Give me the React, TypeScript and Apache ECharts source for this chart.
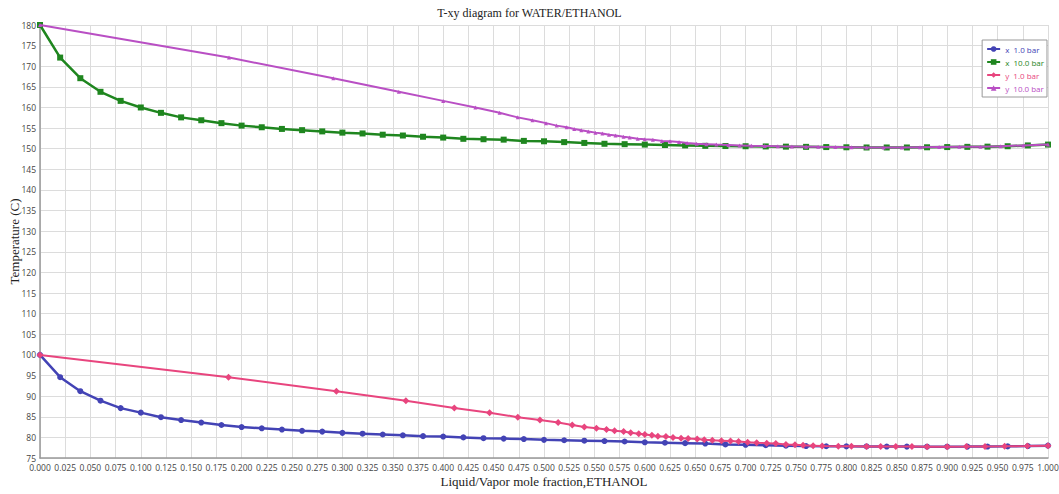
import React, { useEffect, useRef } from "react";
import * as echarts from "echarts";

const xLiquid = [0, 0.02, 0.04, 0.06, 0.08, 0.1, 0.12, 0.14, 0.16, 0.18, 0.2, 0.22, 0.24, 0.26, 0.28, 0.3, 0.32, 0.34, 0.36, 0.38, 0.4, 0.42, 0.44, 0.46, 0.48, 0.5, 0.52, 0.54, 0.56, 0.58, 0.6, 0.62, 0.64, 0.66, 0.68, 0.7, 0.72, 0.74, 0.76, 0.78, 0.8, 0.82, 0.84, 0.86, 0.88, 0.9, 0.92, 0.94, 0.96, 0.98, 1.0];

const tempX1bar = [100.0, 94.6, 91.2, 88.9, 87.1, 86.0, 84.9, 84.2, 83.6, 83.0, 82.5, 82.2, 81.9, 81.6, 81.4, 81.1, 80.9, 80.7, 80.5, 80.3, 80.2, 80.0, 79.8, 79.7, 79.6, 79.4, 79.3, 79.2, 79.1, 79.0, 78.8, 78.7, 78.6, 78.5, 78.3, 78.2, 78.1, 78.0, 77.9, 77.85, 77.82, 77.8, 77.78, 77.76, 77.75, 77.75, 77.76, 77.78, 77.82, 77.9, 78.0];

const tempX10bar = [180, 172.1, 167.1, 163.8, 161.6, 160.0, 158.7, 157.6, 156.9, 156.2, 155.6, 155.2, 154.8, 154.5, 154.2, 153.9, 153.7, 153.4, 153.2, 152.9, 152.7, 152.4, 152.3, 152.2, 151.9, 151.8, 151.6, 151.4, 151.2, 151.1, 151.0, 150.9, 150.8, 150.7, 150.65, 150.6, 150.55, 150.5, 150.45, 150.4, 150.35, 150.3, 150.3, 150.3, 150.35, 150.4, 150.45, 150.5, 150.6, 150.8, 151.0];

const xVapor1bar = [0, 0.187, 0.294, 0.363, 0.411, 0.446, 0.474, 0.496, 0.514, 0.528, 0.54, 0.552, 0.562, 0.57, 0.579, 0.586, 0.594, 0.6, 0.607, 0.613, 0.621, 0.628, 0.636, 0.643, 0.652, 0.659, 0.667, 0.676, 0.685, 0.693, 0.702, 0.711, 0.721, 0.73, 0.74, 0.749, 0.757, 0.767, 0.776, 0.792, 0.805, 0.82, 0.834, 0.849, 0.865, 0.88, 0.9, 0.919, 0.9375, 0.957, 0.9795, 1.0];
const tempY1bar = [100.0, 94.6, 91.2, 88.9, 87.1, 86.0, 84.9, 84.2, 83.6, 83.0, 82.5, 82.2, 81.9, 81.6, 81.4, 81.1, 80.9, 80.7, 80.5, 80.3, 80.2, 80.0, 79.8, 79.7, 79.6, 79.4, 79.3, 79.2, 79.1, 79.0, 78.8, 78.7, 78.6, 78.5, 78.3, 78.2, 78.1, 78.0, 77.9, 77.85, 77.83, 77.81, 77.79, 77.77, 77.76, 77.75, 77.75, 77.76, 77.78, 77.82, 77.9, 78.0];

const xVapor10bar = [0, 0.1875, 0.291, 0.356, 0.4, 0.432, 0.456, 0.474, 0.4885, 0.502, 0.5126, 0.5225, 0.53, 0.537, 0.544, 0.551, 0.558, 0.5645, 0.571, 0.579, 0.585, 0.593, 0.6, 0.608, 0.617, 0.625, 0.634, 0.642, 0.6515, 0.661, 0.671, 0.683, 0.694, 0.706, 0.719, 0.732, 0.746, 0.76, 0.772, 0.789, 0.805, 0.82, 0.837, 0.855, 0.873, 0.892, 0.912, 0.933, 0.953, 0.9755, 1.0];
const tempY10bar = tempX10bar;

const seriesNames = ["x  1.0 bar", "x  10.0 bar", "y  1.0 bar", "y  10.0 bar"];
const seriesColors = ["#4343b5", "#1f861f", "#e8457e", "#b94fc4"];

const pairs = (xs: number[], ys: number[]) => xs.map((x, i) => [x, ys[i]]);

export default function App() {
  const ref = useRef<HTMLDivElement>(null);
  useEffect(() => {
    document.body.style.margin = "0";
    const chart = echarts.init(ref.current!, undefined, { renderer: "svg" });
    const serif = "Liberation Serif";
    const sans = "Open Sans";
    chart.setOption({
      animation: false,
      backgroundColor: "#ffffff",
      title: {
        text: "T-xy diagram for WATER/ETHANOL",
        left: "center",
        top: 2,
        textStyle: { fontFamily: serif, fontSize: 12, fontWeight: "normal", color: "#222" },
      },
      legend: {
        orient: "vertical",
        right: 12,
        top: 40,
        borderColor: "#999",
        borderWidth: 1,
        backgroundColor: "#fff",
        padding: [5, 3, 5, 4],
        itemWidth: 13,
        itemHeight: 7,
        itemGap: 5,
        textStyle: { fontFamily: sans, fontSize: 8 },
        data: seriesNames.map((n, i) => ({ name: n, textStyle: { color: seriesColors[i] } })),
      },
      grid: { left: 40, right: 11, top: 25, bottom: 36, containLabel: false, outerBoundsMode: "none" },
      xAxis: {
        type: "value",
        min: 0,
        max: 1,
        interval: 0.025,
        name: "Liquid/Vapor mole fraction,ETHANOL",
        nameLocation: "middle",
        nameGap: 17,
        nameMoveOverlap: false,
        nameTextStyle: { fontFamily: serif, fontSize: 13, color: "#222" },
        axisLine: { show: true, lineStyle: { color: "#999", width: 1.5 } },
        axisTick: { show: false },
        axisLabel: {
          fontFamily: sans,
          fontSize: 8.5,
          color: "#444",
          margin: 5,
          formatter: (v: number) => v.toFixed(3),
        },
        splitLine: { show: true, lineStyle: { color: "#dcdcdc", width: 1 } },
      },
      yAxis: {
        type: "value",
        min: 75,
        max: 180,
        interval: 5,
        name: "Temperature (C)",
        nameLocation: "middle",
        nameGap: 19,
        nameMoveOverlap: false,
        nameRotate: 90,
        nameTextStyle: { fontFamily: serif, fontSize: 13, color: "#222" },
        axisLine: { show: true, lineStyle: { color: "#999", width: 1.5 } },
        axisTick: { show: false },
        axisLabel: { fontFamily: sans, fontSize: 8.5, color: "#444", margin: 4 },
        splitLine: { show: true, lineStyle: { color: "#dcdcdc", width: 1 } },
      },
      series: [
        {
          name: seriesNames[0],
          type: "line",
          data: pairs(xLiquid, tempX1bar),
          color: seriesColors[0],
          symbol: "circle",
          symbolSize: 6,
          lineStyle: { width: 2.5 },
          z: 3,
        },
        {
          name: seriesNames[1],
          type: "line",
          data: pairs(xLiquid, tempX10bar),
          color: seriesColors[1],
          symbol: "rect",
          symbolSize: 6,
          lineStyle: { width: 2.5 },
          z: 3,
        },
        {
          name: seriesNames[2],
          type: "line",
          data: pairs(xVapor1bar, tempY1bar),
          color: seriesColors[2],
          symbol: "diamond",
          symbolSize: 7,
          lineStyle: { width: 2 },
          z: 4,
        },
        {
          name: seriesNames[3],
          type: "line",
          data: pairs(xVapor10bar, tempY10bar),
          color: seriesColors[3],
          symbol: "triangle",
          symbolSize: 4,
          lineStyle: { width: 2 },
          z: 4,
        },
      ],
    });
    return () => chart.dispose();
  }, []);
  return (
    <div
      ref={ref}
      style={{ position: "fixed", left: 0, top: 0, width: 1059, height: 494 }}
    />
  );
}
